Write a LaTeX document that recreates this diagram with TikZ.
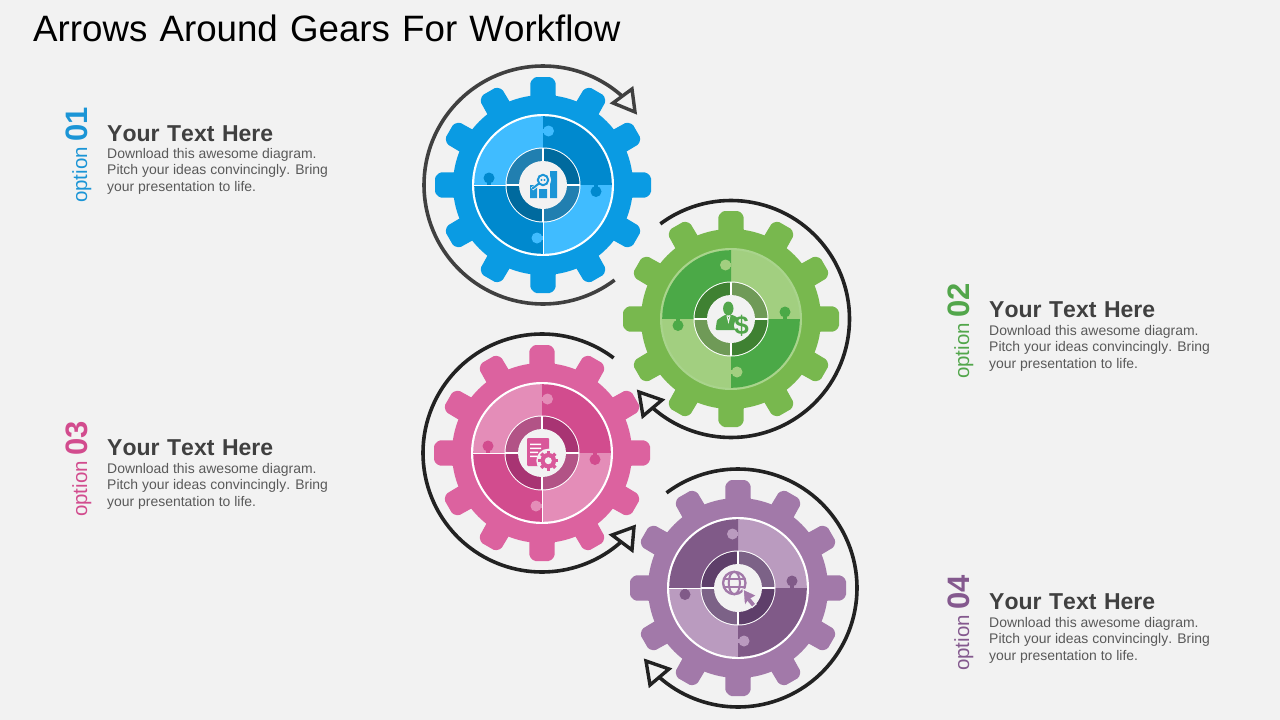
\documentclass[tikz,border=0pt]{standalone}
\usepackage{fontspec}
\setmainfont[Kerning=Off]{Liberation Sans}
\definecolor{pagebg}{HTML}{F2F2F2}
\definecolor{body1}{HTML}{0A9BE3}\definecolor{lite1}{HTML}{40BCFF}\definecolor{deep1}{HTML}{0089CE}\definecolor{dmut1}{HTML}{217FB0}\definecolor{ddrk1}{HTML}{006A9E}\definecolor{ring1}{HTML}{FFFFFF}\definecolor{icon1}{HTML}{1B95D6}
\definecolor{body2}{HTML}{78B84E}\definecolor{lite2}{HTML}{A2CF80}\definecolor{deep2}{HTML}{4BA947}\definecolor{dmut2}{HTML}{6F9A57}\definecolor{ddrk2}{HTML}{3F8132}\definecolor{ring2}{HTML}{A9D48C}\definecolor{icon2}{HTML}{52A64B}
\definecolor{body3}{HTML}{DC629F}\definecolor{lite3}{HTML}{E48DB8}\definecolor{deep3}{HTML}{D24C8E}\definecolor{dmut3}{HTML}{B25386}\definecolor{ddrk3}{HTML}{A83473}\definecolor{ring3}{HTML}{FFFFFF}\definecolor{icon3}{HTML}{D9589A}
\definecolor{body4}{HTML}{A279A9}\definecolor{lite4}{HTML}{BA9BBF}\definecolor{deep4}{HTML}{805A88}\definecolor{dmut4}{HTML}{7C6287}\definecolor{ddrk4}{HTML}{5E3F6A}\definecolor{ring4}{HTML}{FFFFFF}\definecolor{icon4}{HTML}{A279A9}
\definecolor{opt1}{HTML}{1B95D6}\definecolor{opt2}{HTML}{52A64B}\definecolor{opt3}{HTML}{D24C8E}\definecolor{opt4}{HTML}{84598E}
\definecolor{arcA}{HTML}{404040}\definecolor{arcB}{HTML}{222222}
\newcommand\headline[1]{{\spaceskip 7.6pt\relax #1}}
\newcommand\titleline[1]{{\spaceskip 12.2pt\relax #1}}
\tikzset{
  headtext/.style={anchor=base west,inner sep=0pt,text=black!75,font=\fontsize{23}{28}\selectfont\bfseries},
  bodytext/.style={anchor=north west,inner sep=0pt,text=black!65,align=left,font=\fontsize{13.95}{16.5}\selectfont},
  optlabel/.style={anchor=base west,inner sep=0pt,rotate=90},
  turnarc/.style={line width=3.6pt,draw=#1},
  turnhead/.style={line width=3.4pt,draw=#1,fill=pagebg,miter limit=10},
}
\newcommand\quadfill[4]{\fill[#1] (0,0) -- (#2:#4) arc[start angle=#2,end angle=#3,radius=#4] -- cycle;}
\newcommand\knob[4]{% colour, knob x, knob y, stem end
  \fill[#1] (#2,#3) circle[radius=5.5];
  \draw[#1,line width=4.5pt] (#2,#3) -- #4;}
\newcommand\optiontext[1]{\fontsize{20.5}{24}\selectfont option\hskip5.5pt\fontsize{31}{34}\selectfont\bfseries #1}
\newcommand\gearunit[2]{% index, mirror
  \begin{scope}[shift={(gear#1)}]
    \foreach \a in {0,30,...,330}{
      \fill[body#1,rotate=\a,rounded corners=1.5pt] (-13,75) -- (-12.5,103.5) -- (-8,108) -- (8,108) -- (12.5,103.5) -- (13,75) -- cycle;}
    \fill[body#1] (0,0) circle[radius=90];
    \fill[ring#1] (0,0) circle[radius=71];
    \begin{scope}[xscale=#2]
      \quadfill{lite#1}{90}{180}{68.8}
      \quadfill{deep#1}{0}{90}{68.8}
      \quadfill{lite#1}{270}{360}{68.8}
      \quadfill{deep#1}{180}{270}{68.8}
      \knob{lite#1}{5.5}{54}{(0,54)}
      \knob{deep#1}{53}{-6.5}{(53,0)}
      \knob{lite#1}{-6}{-53}{(0,-53)}
      \knob{deep#1}{-54}{7}{(-54,0)}
      \fill[white] (0,0) circle[radius=37.5];
      \quadfill{dmut#1}{90}{180}{36.5}
      \quadfill{ddrk#1}{0}{90}{36.5}
      \quadfill{dmut#1}{270}{360}{36.5}
      \quadfill{ddrk#1}{180}{270}{36.5}
    \end{scope}
    \draw[white,line width=1.2pt] (-37,0) -- (37,0) (0,37) -- (0,-37);
    \fill[pagebg] (0,0) circle[radius=24];
  \end{scope}}
\begin{document}
\begin{tikzpicture}[x=1pt,y=1pt]
\useasboundingbox (0,0) rectangle (1280,-720);
\fill[pagebg] (0,0) rectangle (1280,-720);
\coordinate (gear1) at (543,-185);
\coordinate (gear2) at (731,-319);
\coordinate (gear3) at (542,-453);
\coordinate (gear4) at (738,-588);

\node[anchor=base west,inner sep=0pt,text=black,font=\fontsize{36.7}{40}\selectfont] (title) at (33,-41) {\titleline{Arrows Around Gears For Workflow}};

% gears
\gearunit{1}{1}
\gearunit{2}{-1}
\gearunit{3}{1}
\gearunit{4}{-1}

% white spokes in the disc
\draw[white,line width=1pt] ([xshift=-69pt]gear1) -- ([xshift=-37pt]gear1) ([yshift=-69pt]gear1) -- ([yshift=-37pt]gear1);
\draw[white,line width=1pt] ([xshift=-69pt]gear3) -- ([xshift=-37pt]gear3) ([yshift=-69pt]gear3) -- ([yshift=-37pt]gear3);
\draw[white,line width=1pt] ([xshift=-69pt]gear4) -- ([xshift=-37pt]gear4);

% turning arrows
\draw[turnarc=arcA] (gear1) ++(48:119) arc[start angle=48,end angle=307,radius=119];
\draw[turnhead=arcA] (632,-89) -- (635,-112) -- (613,-103) -- cycle;
\draw[turnarc=arcB] (gear2) ++(126.6:118.5) arc[start angle=126.6,end angle=-131.4,radius=118.5];
\draw[turnhead=arcB] (639,-392) -- (662,-400) -- (643,-416) -- cycle;
\draw[turnarc=arcB] (gear3) ++(53:119) arc[start angle=53,end angle=311.8,radius=119];
\draw[turnhead=arcB] (634,-527) -- (632,-550) -- (612,-535) -- cycle;
\draw[turnarc=arcB] (gear4) ++(126.9:119) arc[start angle=126.9,end angle=-131.4,radius=119];
\draw[turnhead=arcB] (646,-661) -- (669,-669) -- (650,-685) -- cycle;

% icon 1: chart and magnifier
\begin{scope}[shift={(gear1)}]
  \fill[icon1] (-13,-13) rectangle (-6,0) (-4,-13) rectangle (4,-4) (7,-13) rectangle (14,14);
  \fill[pagebg] (0,5) circle[radius=8];
  \draw[pagebg,line width=3.5pt] (-3,2) -- (-11,-4);
  \draw[icon1,line width=2pt] (0,5) circle[radius=5.2];
  \draw[icon1,line width=2pt,line cap=round] (-4,1.5) -- (-10.5,-3.5);
  \fill[icon1] (-1.5,5) circle[radius=1.2] (1.5,5) circle[radius=1.2];
\end{scope}

% icon 2: person and dollar
\begin{scope}[shift={(gear2)}]
  \fill[icon2] (-2.7,10.5) ellipse[x radius=5.2,y radius=7];
  \fill[icon2,rounded corners=1pt] (-15.5,-11) -- (-14,-1) -- (-8,3) -- (-5,4.5) -- (-2.5,1) -- (0,4.5) -- (4,3) -- (9,-1) -- (9,-11) -- cycle;
  \draw[pagebg,line width=0.9pt] (-4,3) -- (-2.5,-3) -- (-1,3);
  \fill[pagebg] (10.5,-6.5) circle[radius=7.5];
  \node[inner sep=0pt,text=icon2,font=\fontsize{26}{26}\selectfont\bfseries] (dollar) at (10.5,-6.5) {\$};
\end{scope}

% icon 3: document and gear
\begin{scope}[shift={(gear3)}]
  \fill[icon3,rounded corners=1pt] (-15,15) rectangle (7,-13);
  \fill[white] (-12,9.5) rectangle (-1,8) (-12,5.5) rectangle (-1,4) (-12,1.5) rectangle (-4,0) (-12,-2.5) rectangle (-5,-4);
  \fill[pagebg] (6.3,-7.7) circle[radius=12];
  \foreach \a in {0,45,...,315}{
    \fill[icon3,rotate around={\a:(6.3,-7.7)}] (4.6,-7.7) rectangle (8,2.3);}
  \fill[icon3] (6.3,-7.7) circle[radius=7.8];
  \fill[pagebg] (6.3,-7.7) circle[radius=3.5];
\end{scope}

% icon 4: globe and cursor
\begin{scope}[shift={(gear4)}]
  \draw[icon4,line width=2.3pt] (-3.7,5) circle[radius=11.2];
  \draw[icon4,line width=2pt] (-3.7,5) ellipse[x radius=5.6,y radius=11.2];
  \draw[icon4,line width=2pt] (-14,9) -- (6.6,9) (-14,1) -- (6.6,1);
  \fill[icon4,draw=pagebg,line width=1.2pt] (5,-1) -- (19,-7.5) -- (13.5,-10.5) -- (18,-16) -- (14,-19.5) -- (9.5,-14) -- (6.5,-18.5) -- cycle;
\end{scope}

% labels
\node[optlabel,text=opt1] (opt1) at (87,-203) {\optiontext{01}};
\node[headtext] (h1) at (107,-141) {\headline{Your Text Here}};
\node[bodytext] (b1) at (107,-147.7) {Download this awesome diagram.\\Pitch your ideas convincingly. Bring\\your presentation to life.};

\node[optlabel,text=opt2] (opt2) at (969,-379) {\optiontext{02}};
\node[headtext] (h2) at (989,-317) {\headline{Your Text Here}};
\node[bodytext] (b2) at (989,-324.7) {Download this awesome diagram.\\Pitch your ideas convincingly. Bring\\your presentation to life.};

\node[optlabel,text=opt3] (opt3) at (87,-517) {\optiontext{03}};
\node[headtext] (h3) at (107,-455) {\headline{Your Text Here}};
\node[bodytext] (b3) at (107,-462.7) {Download this awesome diagram.\\Pitch your ideas convincingly. Bring\\your presentation to life.};

\node[optlabel,text=opt4] (opt4) at (969,-671) {\optiontext{04}};
\node[headtext] (h4) at (989,-609) {\headline{Your Text Here}};
\node[bodytext] (b4) at (989,-616.7) {Download this awesome diagram.\\Pitch your ideas convincingly. Bring\\your presentation to life.};
\end{tikzpicture}
\end{document}
